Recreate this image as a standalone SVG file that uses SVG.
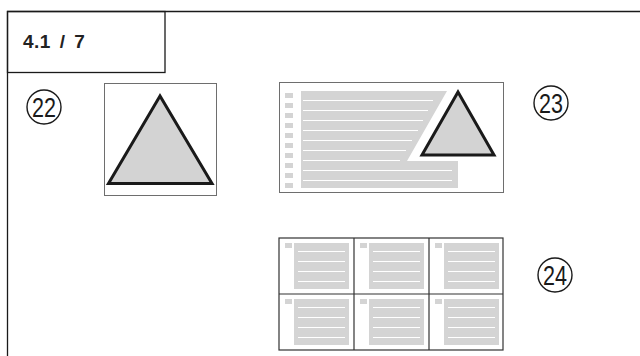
<svg xmlns="http://www.w3.org/2000/svg" width="640" height="356" viewBox="0 0 640 356">
<style>
.frame{fill:none;stroke:#1a1a1a;stroke-width:1.3}
.pic{fill:#fff;stroke:#6e6e6e;stroke-width:1}
.tri{fill:#d3d3d3;stroke:#1a1a1a;stroke-width:3;stroke-linejoin:miter}
.blk{fill:#d4d4d4}
.sq{fill:#d4d4d4}
.wl{stroke:#fff;stroke-width:1}
.grid{fill:none;stroke:#333;stroke-width:1.2}
.num{fill:none;stroke:#1a1a1a;stroke-width:1.4}
.numt{font-family:"Liberation Sans",Arial,sans-serif;font-size:27px;fill:#1a1a1a;text-anchor:middle}
.head{font-family:"Liberation Sans",Arial,sans-serif;font-size:19px;font-weight:bold;fill:#222;word-spacing:3px;letter-spacing:0.5px}
</style>
<defs>
<g id="cell">
<rect class="sq" x="6" y="5" width="7" height="5"/>
<rect class="blk" x="15" y="5" width="55" height="46"/>
<line class="wl" x1="19" y1="13.5" x2="66" y2="13.5"/>
<line class="wl" x1="19" y1="23.5" x2="66" y2="23.5"/>
<line class="wl" x1="19" y1="33.5" x2="66" y2="33.5"/>
<line class="wl" x1="19" y1="43.5" x2="66" y2="43.5"/>
</g>
</defs>
<g id="frame">
<path class="frame" d="M7.5,356 V11.5 H640"/>
<rect class="frame" x="7.5" y="11.5" width="157.5" height="61"/>
<text class="head" x="23" y="48">4.1 / 7</text>
</g>
<g id="label22">
<circle class="num" cx="44" cy="107" r="17"/>
<text class="numt" x="44" y="116.5" textLength="24" lengthAdjust="spacingAndGlyphs">22</text>
</g>
<g id="image22">
<rect class="pic" x="104.5" y="83.5" width="112" height="112"/>
<polygon class="tri" points="160,96 108.5,183.5 212,183.5"/>
</g>
<g id="image23">
<rect class="pic" x="279.5" y="82.5" width="224" height="110"/>
<g class="sqs">
<rect class="sq" x="285" y="93" width="8" height="5"/>
<rect class="sq" x="285" y="103" width="8" height="5"/>
<rect class="sq" x="285" y="113" width="8" height="5"/>
<rect class="sq" x="285" y="123" width="8" height="5"/>
<rect class="sq" x="285" y="133" width="8" height="5"/>
<rect class="sq" x="285" y="143" width="8" height="5"/>
<rect class="sq" x="285" y="153" width="8" height="5"/>
<rect class="sq" x="285" y="163" width="8" height="5"/>
<rect class="sq" x="285" y="173" width="8" height="5"/>
<rect class="sq" x="285" y="183" width="8" height="5"/>
</g>
<polygon class="blk" points="301,91 447,91 407,161 458,161 458,188 301,188"/>
<line class="wl" x1="303" y1="100.5" x2="433" y2="100.5"/>
<line class="wl" x1="303" y1="110.5" x2="428" y2="110.5"/>
<line class="wl" x1="303" y1="120.5" x2="423" y2="120.5"/>
<line class="wl" x1="303" y1="130.5" x2="418" y2="130.5"/>
<line class="wl" x1="303" y1="140.5" x2="412" y2="140.5"/>
<line class="wl" x1="303" y1="150.5" x2="406" y2="150.5"/>
<line class="wl" x1="303" y1="160.5" x2="400" y2="160.5"/>
<line class="wl" x1="303" y1="170.5" x2="452" y2="170.5"/>
<line class="wl" x1="303" y1="180.5" x2="452" y2="180.5"/>
<polygon class="tri" points="458,92 422,155 494,155"/>
</g>
<g id="label23">
<circle class="num" cx="551" cy="103" r="17"/>
<text class="numt" x="551" y="112.5" textLength="24" lengthAdjust="spacingAndGlyphs">23</text>
</g>
<g id="image24">
<rect x="279" y="238" width="224" height="112" fill="#fff"/>
<use href="#cell" x="279" y="238"/>
<use href="#cell" x="354" y="238"/>
<use href="#cell" x="429" y="238"/>
<use href="#cell" x="279" y="294"/>
<use href="#cell" x="354" y="294"/>
<use href="#cell" x="429" y="294"/>
<rect class="grid" x="279" y="238" width="224" height="112"/>
<line class="grid" x1="354" y1="238" x2="354" y2="350"/>
<line class="grid" x1="429" y1="238" x2="429" y2="350"/>
<line class="grid" x1="279" y1="294" x2="503" y2="294"/>
</g>
<g id="label24">
<circle class="num" cx="555" cy="275" r="17"/>
<text class="numt" x="555" y="284.5" textLength="24" lengthAdjust="spacingAndGlyphs">24</text>
</g>
<g id="connectors"/>
</svg>
